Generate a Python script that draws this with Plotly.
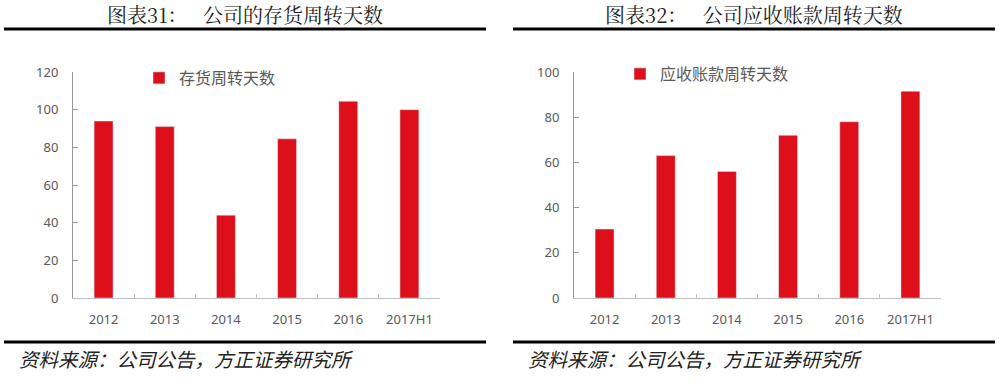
import plotly.graph_objects as go

categories = ["2012", "2013", "2014", "2015", "2016", "2017H1"]
inventory_days = [94, 91, 44, 84.5, 104.5, 100]
receivable_days = [30.5, 63, 56, 72, 78, 91.5]
inv_ticks = [0, 20, 40, 60, 80, 100, 120]
rec_ticks = [0, 20, 40, 60, 80, 100]
title_left = "图表31：   公司的存货周转天数"
title_right = "图表32：   公司应收账款周转天数"
source_text = "资料来源：公司公告，方正证券研究所"
name_left = "存货周转天数"
name_right = "应收账款周转天数"

W, H = 999, 382
RED = "#DC0F1B"
GRAY = "#595959"
XAXIS = "#BFBFBF"
YAXIS = "#999999"

def px(x):
    return x / W

def py(y):
    return 1 - y / H

fig = go.Figure()
fig.add_trace(go.Bar(x=categories, y=inventory_days, name=name_left, marker_color=RED,
                     xaxis="x", yaxis="y", legend="legend", width=0.31))
fig.add_trace(go.Bar(x=categories, y=receivable_days, name=name_right, marker_color=RED,
                     xaxis="x2", yaxis="y2", legend="legend2", width=0.31))

axis_font = dict(family="Noto Sans, Open Sans, sans-serif", size=13, color=GRAY)
common_x = dict(showline=True, linecolor=XAXIS, linewidth=1, ticks="inside", ticklen=4,
                tickcolor=XAXIS, tickson="boundaries", tickfont=axis_font, showgrid=False,
                type="category", fixedrange=True, automargin=False, ticklabelstandoff=9)
common_y = dict(showline=True, linecolor=YAXIS, linewidth=1, ticks="inside", ticklen=5,
                tickcolor=YAXIS, tickfont=axis_font, showgrid=False, zeroline=False,
                fixedrange=True, automargin=False, ticklabelstandoff=11)

leg_font = dict(family="Noto Sans CJK SC", size=16, color=GRAY)

fig.update_layout(
    width=W, height=H,
    margin=dict(l=0, r=0, t=0, b=0, pad=0, autoexpand=False),
    paper_bgcolor="white", plot_bgcolor="white",
    xaxis=dict(domain=[px(73), px(440)], anchor="y", **common_x),
    yaxis=dict(domain=[py(298), py(72)], anchor="x", range=[0, 120], tickvals=inv_ticks, **common_y),
    xaxis2=dict(domain=[px(574), px(941)], anchor="y2", **common_x),
    yaxis2=dict(domain=[py(298), py(72)], anchor="x2", range=[0, 100], tickvals=rec_ticks, **common_y),
    legend=dict(x=px(139), y=py(78), xanchor="left", yanchor="middle", font=leg_font,
                bgcolor="rgba(0,0,0,0)", itemclick=False),
    legend2=dict(x=px(620), y=py(74), xanchor="left", yanchor="middle", font=leg_font,
                 bgcolor="rgba(0,0,0,0)", itemclick=False),
    showlegend=True,
)

title_font = dict(family="Noto Serif CJK SC, Noto Sans CJK SC", size=20, color="#222222")
src_font = dict(family="Noto Sans CJK SC", size=19.5, color="#222222", style="italic")

for x0, x1, title in [(4, 486, title_left), (513, 995, title_right)]:
    fig.add_shape(type="line", xref="paper", yref="paper", x0=px(x0), x1=px(x1),
                  y0=py(29), y1=py(29), line=dict(color="black", width=3))
    fig.add_shape(type="line", xref="paper", yref="paper", x0=px(x0), x1=px(x1),
                  y0=py(342), y1=py(342), line=dict(color="black", width=3))
    fig.add_annotation(xref="paper", yref="paper", x=px((x0 + x1) / 2), y=py(15),
                       text=title, showarrow=False, font=title_font,
                       xanchor="center", yanchor="middle")
    fig.add_annotation(xref="paper", yref="paper", x=px(x0 + 13), y=py(358),
                       text=source_text, showarrow=False, font=src_font,
                       xanchor="left", yanchor="middle")

fig.write_html("out.html", config={"displayModeBar": False},
               post_script="document.body.style.margin='0px';")
